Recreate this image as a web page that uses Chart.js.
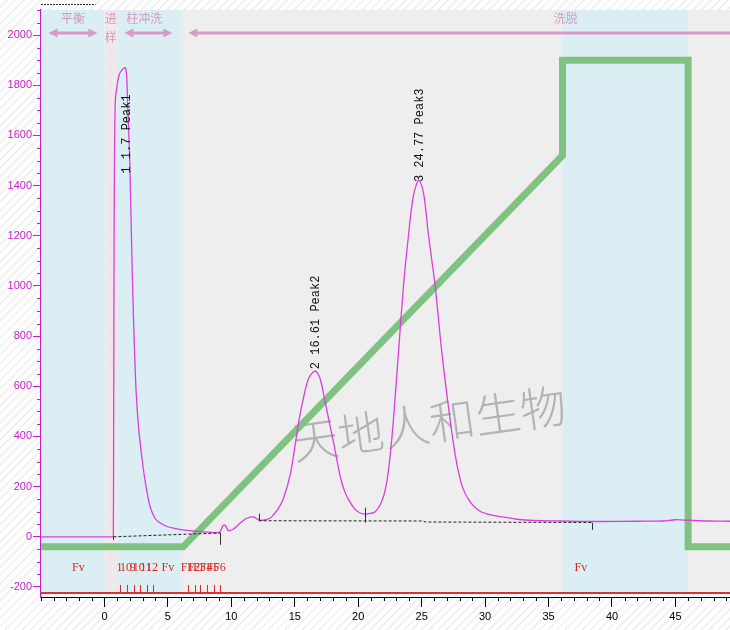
<!DOCTYPE html>
<html>
<head>
<meta charset="utf-8">
<script src="https://cdn.jsdelivr.net/npm/chart.js@4.4.1/dist/chart.umd.min.js"></script>
<style>
  html, body { margin: 0; padding: 0; }
  body {
    width: 730px; height: 630px; overflow: hidden;
    background: repeating-linear-gradient(135deg, #ffffff 0 4px, #f2f2f2 4px 6px);
  }
  canvas { display: block; }
</style>
</head>
<body>
<canvas id="chart" width="730" height="630"></canvas>
<script>
// UV trace, time (min) / absorbance (mAU)
const uvTime = [-5, 0.68, 0.70, 0.72, 0.75, 0.79, 0.86, 1.0, 1.15, 1.4, 1.65, 1.75, 1.82, 1.89, 1.99, 2.1, 2.23, 2.36, 2.5, 2.7, 2.97, 3.15, 3.36, 3.6, 4.0, 4.4, 5.0, 5.5, 6.5, 7.56, 8.5, 9.0, 9.15, 9.26, 9.4, 9.53, 9.7, 9.85, 10.18, 10.6, 11.1, 11.5, 11.76, 12.0, 12.28, 12.7, 13.07, 13.33, 13.7, 14.12, 14.65, 15.04, 15.35, 15.69, 16.1, 16.61, 17.0, 17.4, 17.75, 18.06, 18.58, 18.9, 19.24, 19.7, 20.1, 20.55, 20.95, 21.34, 21.8, 22.1, 22.4, 22.78, 23.17, 23.57, 23.96, 24.35, 24.77, 25.15, 25.54, 26.06, 26.59, 27.24, 27.7, 28.2, 28.8, 29.5, 30.2, 31.2, 32.5, 33.8, 36, 39, 42, 44, 45, 46, 47.5, 49.3];
const uvValue = [0, 0, 2, 300, 1000, 1500, 1740, 1800, 1840, 1862, 1870, 1835, 1745, 1640, 1508, 1260, 976, 760, 576, 430, 308, 240, 176, 120, 72, 55, 40, 34, 26, 21, 18, 17, 24, 36, 47, 45, 28, 25, 31, 50, 71, 78, 79, 72, 66, 68, 75, 88, 112, 155, 250, 370, 470, 555, 632, 661, 630, 535, 450, 375, 241, 185, 148, 112, 96, 90, 93, 100, 135, 180, 270, 468, 735, 1001, 1201, 1360, 1421, 1370, 1201, 1001, 735, 468, 310, 200, 140, 105, 90, 80, 70, 65, 63, 61, 62, 63, 68, 66, 63, 62];

// gradient trace (same y scale)
const gradTime = [-5, 6.2, 36.1, 36.1, 46, 46, 49.3];
const gradValue = [-40, -40, 1520, 1900, 1900, -40, -40];

// integration baselines
const base1Time = [0.71, 9.13];
const base1Value = [0, 15];
const base2Time = [12.15, 25.1, 25.3, 38.4];
const base2Value = [64, 63, 59, 57];
const baseTickTime = [0.71, 9.13, 12.15, 20.55, 38.4];
const baseTickFrom = [0, 16, 92, 116, 56];
const baseTickTo = [-12, -32, 64, 56, 28];

// peaks
const peakTime = [1.7, 16.61, 24.77];
const peakName = ['1 1.7 Peak1', '2 16.61 Peak2', '3 24.77 Peak3'];
const peakLabelAt = [1448, 668, 1414];

// fractions
const fracTime = [1.26, 1.78, 2.3, 2.78, 3.36, 3.83, 6.59, 7.11, 7.56, 8.09, 8.61, 9.13];
const fracName = ['1', '10', '9', '10', '11', '12', 'F1', 'F2', 'F3', 'F4', 'F5', 'F6'];
const fvTime = [-2.05, 5.0, 37.55];
const fracLineValue = -224;

// phases (background bands) and run-step arrows
const bandStart = [-5, 0, 1.0, 6.05, 36.08, 46];
const bandEnd = [0, 1.0, 6.05, 36.08, 46, 49.3];
const bandKind = ['blue', 'pink', 'blue', 'gray', 'blue', 'gray'];
const stepName = ['平衡', '柱冲洗', '洗脱'];
const stepFrom = [-4.41, 1.57, 6.61];
const stepTo = [-0.55, 5.35, 49.3];

const xTicks = [0, 5, 10, 15, 20, 25, 30, 35, 40, 45];
const yTicks = [-200, 0, 200, 400, 600, 800, 1000, 1200, 1400, 1600, 1800, 2000];

const bandColors = { blue: '#daeef4', pink: '#efe9ec', gray: '#eeeeee' };
const MAG = '#c81ec8';
const axisFont = '"Liberation Sans", Arial, sans-serif';

function pts(xs, ys) { return xs.map((x, i) => ({ x: x, y: ys[i] })); }

const decor = {
  id: 'decor',
  beforeDatasetsDraw(chart) {
    const ctx = chart.ctx, a = chart.chartArea;
    const sx = chart.scales.x, sy = chart.scales.y;
    ctx.save();
    ctx.beginPath();
    ctx.rect(a.left, a.top, a.right - a.left, a.bottom - a.top);
    ctx.clip();
    const yBot = sy.getPixelForValue(fracLineValue);
    bandStart.forEach((t, i) => {
      const x0 = sx.getPixelForValue(t), x1 = sx.getPixelForValue(bandEnd[i]);
      ctx.fillStyle = bandColors[bandKind[i]];
      ctx.fillRect(x0, a.top, x1 - x0, yBot - a.top);
    });
    // watermark
    ctx.translate(sx.getPixelForValue(25.6), sy.getPixelForValue(452));
    ctx.rotate(-8 * Math.PI / 180);
    ctx.font = '300 46px "Noto Sans CJK SC"';
    ctx.fillStyle = 'rgba(140,140,140,0.6)';
    ctx.textAlign = 'center';
    ctx.textBaseline = 'middle';
    ctx.fillText('天地人和生物', 0, 0);
    ctx.restore();
  },
  afterDatasetsDraw(chart) {
    const ctx = chart.ctx;
    const sx = chart.scales.x, sy = chart.scales.y;
    ctx.save();

    // integration ticks
    ctx.strokeStyle = '#333';
    ctx.lineWidth = 1;
    baseTickTime.forEach((t, i) => {
      const x = Math.round(sx.getPixelForValue(t)) + 0.5;
      ctx.beginPath();
      ctx.moveTo(x, sy.getPixelForValue(baseTickFrom[i]));
      ctx.lineTo(x, sy.getPixelForValue(baseTickTo[i]));
      ctx.stroke();
    });

    // fraction marks
    ctx.strokeStyle = '#e02828';
    fracTime.forEach((t) => {
      const x = Math.round(sx.getPixelForValue(t)) + 0.5;
      ctx.beginPath();
      ctx.moveTo(x, sy.getPixelForValue(fracLineValue));
      ctx.lineTo(x, sy.getPixelForValue(-192));
      ctx.stroke();
    });
    ctx.fillStyle = '#dc2626';
    ctx.font = '12px "Liberation Serif", serif';
    ctx.textAlign = 'center';
    ctx.textBaseline = 'middle';
    const yLab = sy.getPixelForValue(-124);
    fracTime.forEach((t, i) => ctx.fillText(fracName[i], sx.getPixelForValue(t) - 1, yLab));
    fvTime.forEach((t) => ctx.fillText('Fv', sx.getPixelForValue(t), yLab));

    // peak labels
    ctx.fillStyle = '#111';
    ctx.font = '12px "Liberation Mono", monospace';
    ctx.textAlign = 'left';
    peakTime.forEach((t, i) => {
      ctx.save();
      ctx.translate(sx.getPixelForValue(t) + 1, sy.getPixelForValue(peakLabelAt[i]));
      ctx.rotate(-Math.PI / 2);
      ctx.fillText(peakName[i], 0, 0);
      ctx.restore();
    });

    // run-step arrows
    const yArr = sy.getPixelForValue(2008);
    ctx.strokeStyle = '#d89bc8';
    ctx.fillStyle = '#d89bc8';
    ctx.lineWidth = 3;
    const head = (x, dir) => {
      ctx.beginPath();
      ctx.moveTo(x, yArr);
      ctx.lineTo(x + dir * 9, yArr - 4.5);
      ctx.lineTo(x + dir * 9, yArr + 4.5);
      ctx.closePath();
      ctx.fill();
    };
    stepFrom.forEach((t, i) => {
      const x0 = sx.getPixelForValue(t), x1 = sx.getPixelForValue(stepTo[i]);
      ctx.beginPath();
      ctx.moveTo(x0 + 6, yArr);
      ctx.lineTo(x1 - (i < 2 ? 6 : 0), yArr);
      ctx.stroke();
      head(x0, 1);
      if (i < 2) head(x1, -1);
    });
    ctx.fillStyle = '#d49ac4';
    ctx.font = '12px "Noto Sans CJK SC"';
    ctx.textBaseline = 'middle';
    const yTxt = sy.getPixelForValue(2068);
    ctx.textAlign = 'center';
    ctx.fillText(stepName[0], (sx.getPixelForValue(stepFrom[0]) + sx.getPixelForValue(stepTo[0])) / 2, yTxt);
    ctx.fillText(stepName[1], (sx.getPixelForValue(stepFrom[1]) + sx.getPixelForValue(stepTo[1])) / 2 - 4, yTxt);
    ctx.textAlign = 'left';
    ctx.fillText(stepName[2], sx.getPixelForValue(35.4), yTxt);
    ctx.textAlign = 'center';
    ctx.fillText('进', sx.getPixelForValue(0.5), yTxt);
    ctx.fillText('样', sx.getPixelForValue(0.5), sy.getPixelForValue(1990));

    // stray dashed line above the plot
    ctx.strokeStyle = '#333';
    ctx.lineWidth = 1;
    ctx.setLineDash([2, 1]);
    ctx.beginPath();
    ctx.moveTo(sx.getPixelForValue(-5), 4.5);
    ctx.lineTo(sx.getPixelForValue(-0.7), 4.5);
    ctx.stroke();
    ctx.restore();
  },
  afterDraw(chart) {
    const ctx = chart.ctx, a = chart.chartArea;
    const sx = chart.scales.x, sy = chart.scales.y;
    ctx.save();
    ctx.lineWidth = 1;
    // minor y ticks
    ctx.strokeStyle = MAG;
    for (let v = -200; v <= 2100; v += 50) {
      if (v % 200 === 0) continue;
      const y = Math.round(sy.getPixelForValue(v)) + 0.5;
      ctx.beginPath();
      ctx.moveTo(a.left - 4, y);
      ctx.lineTo(a.left, y);
      ctx.stroke();
    }
    // minor x ticks
    ctx.strokeStyle = '#000';
    for (let t = -5; t <= 49; t += 1) {
      if (t % 5 === 0 && t !== -5) continue;
      const x = Math.round(sx.getPixelForValue(t)) + 0.5;
      ctx.beginPath();
      ctx.moveTo(x, a.bottom);
      ctx.lineTo(x, a.bottom + 4);
      ctx.stroke();
    }
    ctx.restore();
  }
};

new Chart(document.getElementById('chart'), {
  type: 'scatter',
  data: {
    datasets: [
      {
        data: pts(base1Time, base1Value),
        showLine: true, borderColor: '#222', borderWidth: 1, borderDash: [3, 2],
        pointRadius: 0
      },
      {
        data: pts(base2Time, base2Value),
        showLine: true, borderColor: '#222', borderWidth: 1, borderDash: [3, 2],
        pointRadius: 0
      },
      {
        data: pts(uvTime, uvValue),
        showLine: true, borderColor: '#dc3ce0', borderWidth: 1.3,
        tension: 0.3, pointRadius: 0
      },
      {
        data: pts(gradTime, gradValue),
        showLine: true, borderColor: '#80c282', borderWidth: 7,
        borderJoinStyle: 'miter', pointRadius: 0
      },
      {
        data: pts([-5, 49.3], [fracLineValue, fracLineValue]),
        showLine: true, borderColor: '#e03030', borderWidth: 2, pointRadius: 0
      }
    ]
  },
  options: {
    responsive: false,
    animation: false,
    events: [],
    devicePixelRatio: 1,
    layout: { padding: { top: 10, right: 0, left: 0, bottom: 0 } },
    plugins: { legend: { display: false }, tooltip: { enabled: false } },
    scales: {
      x: {
        type: 'linear', min: -5, max: 49.3,
        afterBuildTicks: (s) => { s.ticks = xTicks.map((v) => ({ value: v })); },
        afterFit: (s) => { s.height = 33; },
        grid: { drawOnChartArea: false, tickLength: 10, color: '#000' },
        border: { color: '#000', width: 1 },
        ticks: {
          color: '#000', font: { size: 11, family: axisFont }, padding: 3,
          maxRotation: 0, autoSkip: false, callback: (v) => String(v)
        }
      },
      y: {
        type: 'linear', min: -240, max: 2100,
        afterBuildTicks: (s) => { s.ticks = yTicks.map((v) => ({ value: v })); },
        afterFit: (s) => { s.width = 41; },
        grid: { drawOnChartArea: false, tickLength: 8, color: MAG },
        border: { color: MAG, width: 1.5 },
        ticks: {
          color: MAG, font: { size: 11, family: axisFont }, padding: 1,
          autoSkip: false, callback: (v) => String(v)
        }
      }
    }
  },
  plugins: [decor]
});
</script>
</body>
</html>
